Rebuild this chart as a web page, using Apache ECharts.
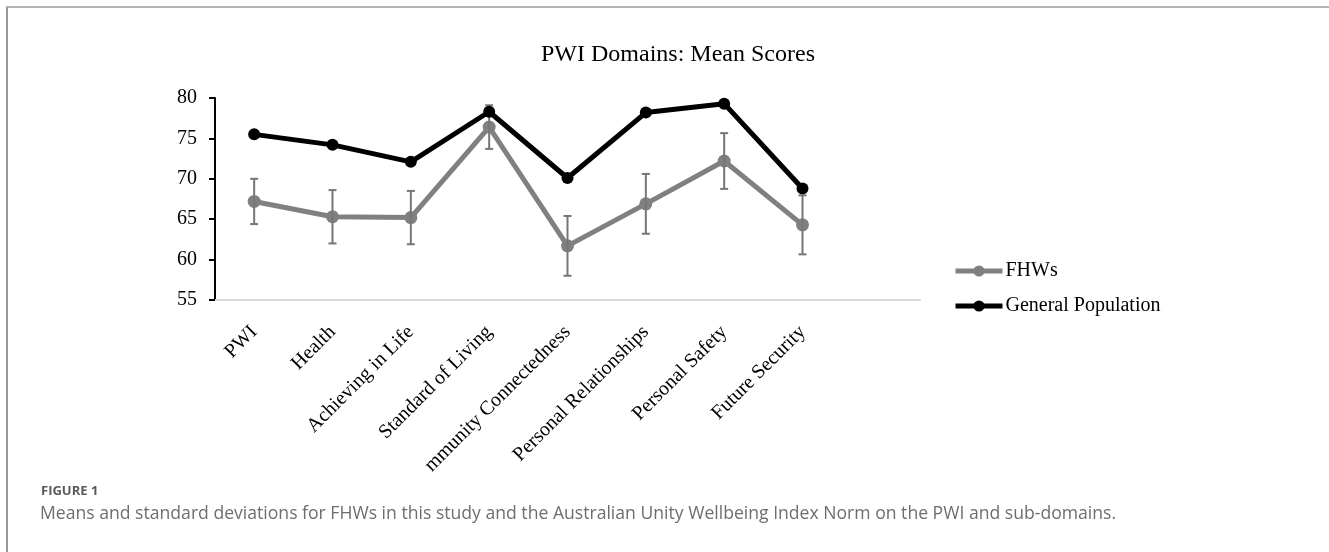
<!DOCTYPE html>
<html>
<head>
<meta charset="utf-8">
<script src="https://cdn.jsdelivr.net/npm/echarts@6/dist/echarts.min.js"></script>
<style>
  html, body { margin: 0; padding: 0; background: #fff; }
  .figure {
    position: relative;
    width: 1329px;
    height: 552px;
    box-sizing: border-box;
    overflow: hidden;
  }
  .frame {
    position: absolute;
    left: 6px;
    top: 6px;
    right: -4px;
    bottom: -4px;
    border-top: 2px solid #b4b4b4;
    border-left: 2px solid #9a9a9a;
  }
  #chart { position: absolute; left: 0; top: 0; width: 1329px; height: 552px; }
  .cap-label {
    position: absolute;
    left: 41px;
    top: 481px;
    font-family: "Open Sans", sans-serif;
    font-weight: 700;
    font-size: 13px;
    color: #5a5a5a;
  }
  .cap-text {
    position: absolute;
    left: 40px;
    top: 500px;
    font-family: "Open Sans", sans-serif;
    font-weight: 400;
    font-size: 17.6px;
    color: #6e6e6e;
  }
</style>
</head>
<body>
<div class="figure">
  <div class="frame"></div>
  <div id="chart"></div>
  <div class="cap-label">FIGURE 1</div>
  <div class="cap-text">Means and standard deviations for FHWs in this study and the Australian Unity Wellbeing Index Norm on the PWI and sub-domains.</div>
</div>
<script>
// domains (last slot is an empty category, like the source plot area)
const domains = ['PWI', 'Health', 'Achieving in Life', 'Standard of Living', 'mmunity Connectedness',
  'Personal Relationships', 'Personal Safety', 'Future Security', '']
const fhws = [67.2, 65.3, 65.2, 76.4, 61.7, 66.9, 72.2, 64.3]
const fhwsSd = [2.8, 3.3, 3.3, 2.7, 3.7, 3.7, 3.45, 3.65]
const generalPop = [75.5, 74.2, 72.1, 78.3, 70.1, 78.2, 79.3, 68.8]
const yTicks = [55, 60, 65, 70, 75, 80]

const serif = '"Liberation Serif", "Times New Roman", serif'
const grey = '#808080'

const errData = fhws.map((v, i) => [i, v - fhwsSd[i], v + fhwsSd[i]])

const chart = echarts.init(document.getElementById('chart'))
chart.setOption({
  animation: false,
  title: {
    text: 'PWI Domains: Mean Scores',
    left: 673,
    top: 38,
    textAlign: 'center',
    textStyle: { fontFamily: serif, fontSize: 24, fontWeight: 'normal', color: '#000' },
  },
  legend: {
    orient: 'vertical',
    left: 948,
    top: 256,
    itemWidth: 47,
    itemHeight: 14,
    itemGap: 15,
    textStyle: { fontFamily: serif, fontSize: 20, color: '#000', padding: [0, 0, 0, -2] },
    data: [
      { name: 'FHWs', lineStyle: { width: 5 } },
      { name: 'General Population', lineStyle: { width: 5 } },
    ],
  },
  grid: { left: 215, right: 409, top: 98, bottom: 252 },
  xAxis: {
    type: 'category',
    data: domains,
    boundaryGap: true,
    axisLine: { lineStyle: { color: '#d9d9d9', width: 2 } },
    axisTick: { show: false },
    axisLabel: {
      rotate: 45,
      interval: 0,
      margin: 29,
      fontFamily: serif,
      fontSize: 20,
      color: '#000',
    },
  },
  yAxis: {
    type: 'value',
    min: yTicks[0],
    max: yTicks[yTicks.length - 1],
    interval: 5,
    axisLine: { show: true, lineStyle: { color: '#000', width: 2 } },
    axisTick: { show: true, length: 6, lineStyle: { color: '#000', width: 2 } },
    splitLine: { show: false },
    axisLabel: { fontFamily: serif, fontSize: 20, color: '#000', margin: 18 },
  },
  series: [
    {
      name: 'FHWs',
      type: 'line',
      data: fhws,
      symbol: 'circle',
      symbolSize: 13,
      z: 3,
      itemStyle: { color: grey },
      lineStyle: { color: grey, width: 5 },
    },
    {
      name: 'errors',
      type: 'custom',
      data: errData,
      z: 4,
      renderItem: (params, api) => {
        const x = api.value(0)
        const lo = api.coord([x, api.value(1)])
        const hi = api.coord([x, api.value(2)])
        const cap = 4
        const style = { stroke: '#767676', lineWidth: 2 }
        return {
          type: 'group',
          children: [
            { type: 'line', shape: { x1: hi[0], y1: hi[1], x2: lo[0], y2: lo[1] }, style },
            { type: 'line', shape: { x1: hi[0] - cap, y1: hi[1], x2: hi[0] + cap, y2: hi[1] }, style },
            { type: 'line', shape: { x1: lo[0] - cap, y1: lo[1], x2: lo[0] + cap, y2: lo[1] }, style },
          ],
        }
      },
    },
    {
      name: 'General Population',
      type: 'line',
      data: generalPop,
      symbol: 'circle',
      symbolSize: 12,
      z: 5,
      itemStyle: { color: '#000' },
      lineStyle: { color: '#000', width: 5 },
    },
  ],
})
</script>
</body>
</html>
